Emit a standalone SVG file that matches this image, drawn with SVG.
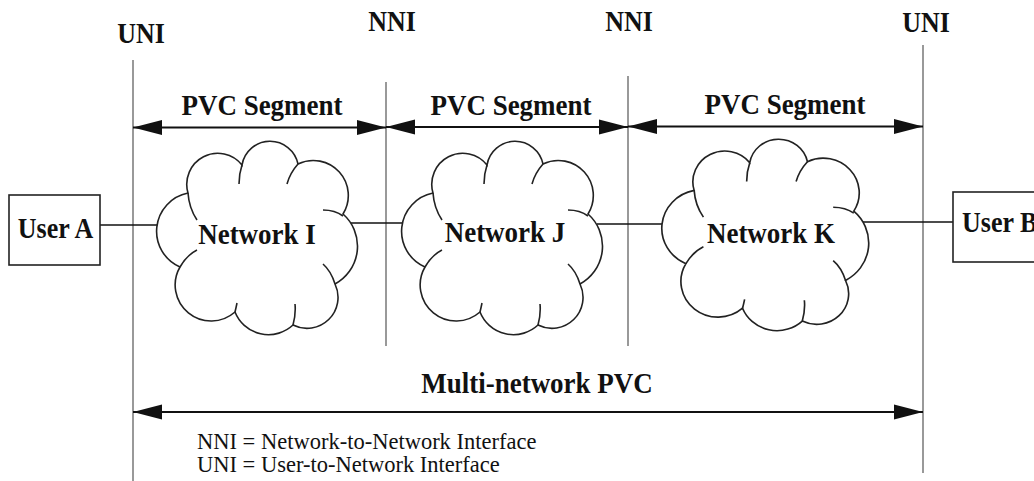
<svg xmlns="http://www.w3.org/2000/svg" xmlns:xlink="http://www.w3.org/1999/xlink" width="1034" height="481" viewBox="0 0 1034 481">
<style>
.bold{font-family:"Liberation Serif","Times New Roman",serif;font-weight:bold;fill:#111;}
.reg{font-family:"Liberation Serif","Times New Roman",serif;fill:#111;}
.iface{stroke:#555;stroke-width:1.2;fill:none;}
.arrow{stroke:#111;stroke-width:2;fill:none;marker-start:url(#ah);marker-end:url(#ah);}
.link{stroke:#111;stroke-width:1.6;fill:none;}
.cloud{stroke:#222;stroke-width:1.6;fill:#fff;}
.tail{stroke:#222;stroke-width:1.6;fill:none;}
.box{stroke:#222;stroke-width:1.6;fill:#fff;}
</style>
<defs>
<marker id="ah" markerUnits="userSpaceOnUse" markerWidth="30" markerHeight="16" refX="29" refY="7.5" orient="auto-start-reverse" viewBox="0 0 30 15">
<path d="M0,0 L29,7.5 L0,15 Z" fill="#111"/>
</marker>
<g id="cloudShape">
<path class="cloud" d="M30,135 A39,39 0 0 1 38,61 A31,31 0 0 1 92,33 A28.5,28.5 0 0 1 148,32 A35,35 0 0 1 193,82 A43,43 0 0 1 185,152 A31,31 0 0 1 143,193 A36,36 0 0 1 85,180 A36,36 0 0 1 30,135 Z"/>
<path class="tail" d="M38,61 Q39,76 47,88 M92,33 Q89,42 89,52 M148,32 Q140,41 137,52 M173,78 Q185,78 193,84 M185,152 Q181,139 173,132 M143,193 Q146,182 145,172 M85,180 Q86,176 87,171 M30,135 Q37,123 47,118"/>
</g>
</defs>
<rect width="1034" height="481" fill="#fff"/>

<g id="connectors">
<line class="iface" x1="133" y1="60" x2="133" y2="481"/>
<line class="iface" x1="386" y1="82" x2="386" y2="346"/>
<line class="iface" x1="628" y1="76" x2="628" y2="346"/>
<line class="iface" x1="923" y1="45" x2="923" y2="473"/>
<line class="arrow" x1="133" y1="127.5" x2="386" y2="127.5"/>
<line class="arrow" x1="386" y1="127" x2="628" y2="127"/>
<line class="arrow" x1="628" y1="126.5" x2="923" y2="126.5"/>
<line class="arrow" x1="133" y1="412" x2="923" y2="412"/>
<line class="link" x1="100" y1="225" x2="158" y2="225"/>
<line class="link" x1="351" y1="223" x2="403" y2="223"/>
<line class="link" x1="597" y1="224" x2="663" y2="224"/>
<line class="link" x1="860" y1="222" x2="953" y2="222"/>
</g>

<g id="labels">
<text class="bold" transform="translate(141 43) scale(1 1.12)" font-size="26" text-anchor="middle">UNI</text>
<text class="bold" transform="translate(392 31) scale(1 1.12)" font-size="26" text-anchor="middle">NNI</text>
<text class="bold" transform="translate(629 31) scale(1 1.12)" font-size="26" text-anchor="middle">NNI</text>
<text class="bold" transform="translate(926 32) scale(1 1.12)" font-size="26" text-anchor="middle">UNI</text>
<text class="bold" transform="translate(262 115) scale(1 1.1)" font-size="27" text-anchor="middle">PVC Segment</text>
<text class="bold" transform="translate(511 115) scale(1 1.1)" font-size="27" text-anchor="middle">PVC Segment</text>
<text class="bold" transform="translate(785 114) scale(1 1.1)" font-size="27" text-anchor="middle">PVC Segment</text>
<text class="bold" transform="translate(537 393) scale(1 1.1)" font-size="27" text-anchor="middle">Multi-network PVC</text>
<text class="reg" x="197" y="449" font-size="22.5">NNI = Network-to-Network Interface</text>
<text class="reg" x="197" y="472" font-size="22.5">UNI = User-to-Network Interface</text>
</g>

<g id="userA">
<rect class="box" x="9" y="195" width="91" height="70"/>
<text class="bold" transform="translate(55.5 238) scale(1 1.15)" font-size="26" text-anchor="middle">User A</text>
</g>

<g id="networkI">
<use xlink:href="#cloudShape" href="#cloudShape" transform="translate(150,132)"/>
<text class="bold" transform="translate(257 244) scale(1 1.1)" font-size="27" text-anchor="middle">Network I</text>
</g>

<g id="networkJ">
<use xlink:href="#cloudShape" href="#cloudShape" transform="translate(395,132)"/>
<text class="bold" transform="translate(505 242) scale(1 1.1)" font-size="27" text-anchor="middle">Network J</text>
</g>

<g id="networkK">
<use xlink:href="#cloudShape" href="#cloudShape" transform="translate(655,130) scale(1.03,0.99)"/>
<text class="bold" transform="translate(771 243) scale(1 1.1)" font-size="27" text-anchor="middle">Network K</text>
</g>

<g id="userB">
<rect class="box" x="953" y="192" width="90" height="70"/>
<text class="bold" transform="translate(962 232) scale(1 1.15)" font-size="26">User B</text>
</g>
</svg>
